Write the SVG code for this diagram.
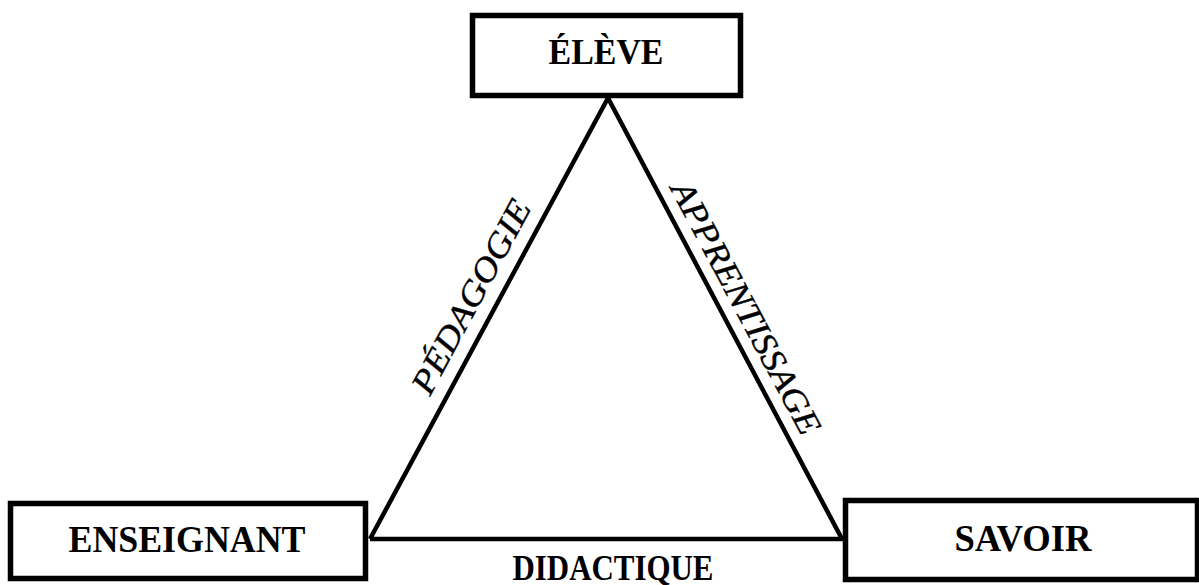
<svg xmlns="http://www.w3.org/2000/svg" width="1199" height="585" viewBox="0 0 1199 585">
<style>
.box{fill:#fff;stroke:#000;stroke-width:5.5}
.lbl{font-family:"Liberation Serif","Times New Roman",serif;font-weight:bold;fill:#000;text-anchor:middle}
.rot{font-family:"Liberation Serif","Times New Roman",serif;font-style:italic;font-weight:normal;fill:#000;text-anchor:middle;font-size:34px;stroke:#000;stroke-width:0.4}
.edge{fill:none;stroke:#000;stroke-width:4.5;stroke-linejoin:miter}
</style>
<rect width="1199" height="585" fill="#fff"/>
<g id="connectors">
<polyline class="edge" points="370,539 608,98 842,539 370,539"/>
<text class="rot" transform="translate(481,302) rotate(-61.7)" textLength="215" lengthAdjust="spacingAndGlyphs">PÉDAGOGIE</text>
<text class="rot" transform="translate(736,313) rotate(62)" textLength="282" lengthAdjust="spacingAndGlyphs">APPRENTISSAGE</text>
<text class="lbl" x="613" y="580" font-size="35" textLength="201" lengthAdjust="spacingAndGlyphs">DIDACTIQUE</text>
</g>
<g id="eleve">
<rect class="box" x="472.5" y="15.5" width="268" height="80"/>
<text class="lbl" x="606" y="64" font-size="35" textLength="115" lengthAdjust="spacingAndGlyphs">ÉLÈVE</text>
</g>
<g id="enseignant">
<rect class="box" x="10.5" y="503.5" width="355" height="75"/>
<text class="lbl" x="187" y="552" font-size="38" textLength="237" lengthAdjust="spacingAndGlyphs">ENSEIGNANT</text>
</g>
<g id="savoir">
<rect class="box" x="845.5" y="500.5" width="352" height="79"/>
<text class="lbl" x="1023" y="551" font-size="38" textLength="137" lengthAdjust="spacingAndGlyphs">SAVOIR</text>
</g>
</svg>
